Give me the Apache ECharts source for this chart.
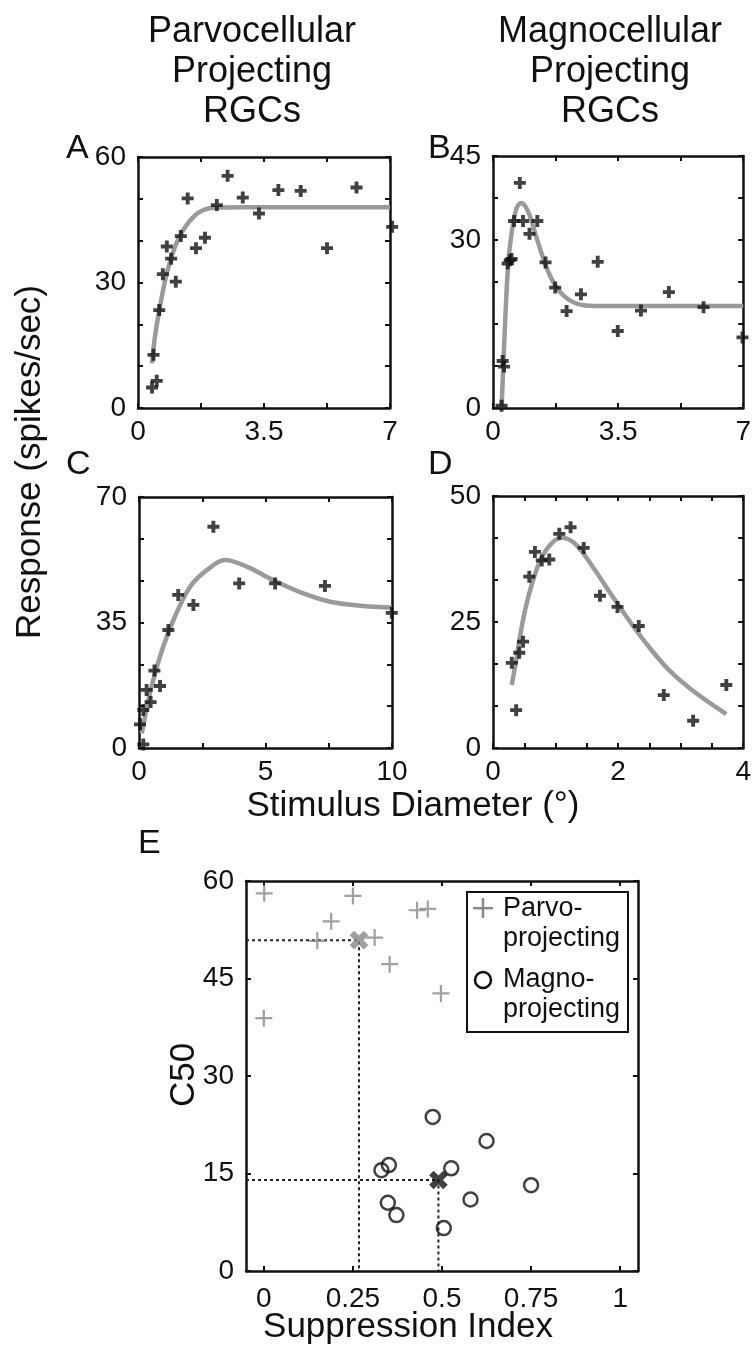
<!DOCTYPE html>
<html>
<head>
<meta charset="utf-8">
<script src="https://cdn.jsdelivr.net/npm/echarts@6/dist/echarts.min.js"></script>
<style>
html, body { margin: 0; padding: 0; background: #fff; }
#chart { width: 754px; height: 1357px; }
</style>
</head>
<body>
<div id="chart"></div>
<script>
// ---- panel A: parvo cell, response vs diameter
var aPoints = [[0.39, 4.9], [0.52, 6.5], [0.43, 12.7], [0.59, 23.4], [0.69, 32], [0.8, 38.6], [0.92, 35.7],
  [1.05, 30.2], [1.19, 41.1], [1.38, 50.1], [1.61, 38.2], [1.86, 40.7], [2.19, 48.5], [2.49, 55.5],
  [2.91, 50.3], [3.36, 46.5], [3.9, 52.1], [4.52, 51.9], [5.25, 38.2], [6.07, 52.7], [7.06, 43.3]]
var aFit = [[0.39, 10.7], [0.47, 17], [0.61, 24.2], [0.8, 32.2], [1.03, 38.6], [1.26, 42.6], [1.54, 45.7],
  [1.81, 47.3], [2.2, 47.9], [3, 48], [5, 48], [7, 48]]
var aXTicks = [0, 1.75, 3.5, 5.25, 7]
var aXLabels = [0, 3.5, 7]
var aYTicks = [0, 10, 20, 30, 40, 50, 60]
var aYLabels = [0, 30, 60]

// ---- panel B: magno cell
var bPoints = [[0.24, 0.4], [0.27, 8.4], [0.31, 7.4], [0.41, 25.8], [0.47, 26.4], [0.52, 26.6], [0.59, 33.4],
  [0.75, 40.2], [0.84, 33.4], [1.02, 31.1], [1.24, 33.4], [1.47, 26], [1.74, 21.5], [2.06, 17.3],
  [2.46, 20.3], [2.93, 26.1], [3.49, 13.75], [4.14, 17.4], [4.92, 20.7], [5.89, 18], [6.98, 12.6]]
var bFit = [[0.24, 0], [0.33, 13.9], [0.42, 25.2], [0.52, 31.2], [0.66, 35.7], [0.79, 36.6], [0.98, 35.1],
  [1.21, 30.6], [1.49, 25.2], [1.76, 21.7], [2.13, 19.3], [2.59, 18.3], [3.2, 18.2], [5, 18.2], [7, 18.2]]
var bXTicks = [0, 1.75, 3.5, 5.25, 7]
var bXLabels = [0, 3.5, 7]
var bYTicks = [0, 7.5, 15, 22.5, 30, 37.5, 45]
var bYLabels = [0, 30, 45]

// ---- panel C: parvo cell
var cPoints = [[0.17, 1], [0.04, 6.6], [0.17, 10.6], [0.46, 12.8], [0.3, 16.2], [0.83, 17.3], [0.61, 21.6],
  [1.16, 32.9], [1.55, 42.7], [2.15, 39.9], [2.94, 61.7], [3.96, 45.9], [5.38, 45.9], [7.35, 45.2], [9.99, 37.7]]
var cFit = [[0.11, 4.1], [0.43, 15.2], [0.83, 25.5], [1.36, 35.7], [2.02, 45], [2.68, 49.6], [3.4, 52.4],
  [4.26, 50.6], [5.31, 46.8], [6.5, 43.1], [7.55, 40.8], [8.87, 39.6], [9.99, 39.2]]
var cXTicks = [0, 2.5, 5, 7.5, 10]
var cXLabels = [0, 5, 10]
var cYTicks = [0, 70 / 6, 70 / 3, 35, 140 / 3, 175 / 3, 70]
var cYLabels = [0, 35, 70]

// ---- panel D: magno cell
var dPoints = [[0.3, 16.9], [0.42, 18.9], [0.48, 21.1], [0.58, 34], [0.67, 38.9], [0.78, 37.2], [0.9, 37.4],
  [1.06, 42.5], [1.24, 43.8], [1.45, 39.7], [1.71, 30.2], [1.99, 28], [2.33, 24.2], [2.73, 10.5],
  [3.73, 12.5], [0.37, 7.5], [3.2, 5.4]]
var dFit = [[0.3, 12.5], [0.38, 18.1], [0.48, 25.4], [0.61, 32], [0.77, 37.6], [0.96, 40.9], [1.11, 41.7],
  [1.33, 40.3], [1.59, 36], [1.86, 31], [2.17, 25.4], [2.49, 20.1], [2.81, 15.5], [3.18, 11.5], [3.73, 6.7]]
var dXTicks = [0, 0.5, 1, 1.5, 2, 2.5, 3, 3.5, 4]
var dXLabels = [0, 2, 4]
var dYTicks = [0, 50 / 6, 50 / 3, 25, 100 / 3, 125 / 3, 50]
var dYLabels = [0, 25, 50]

// ---- panel E: suppression index vs C50
var parvoPoints = [[0.001, 58.1], [0.25, 57.7], [0.189, 53.8], [0.15, 50.8], [0.311, 51.3], [0.353, 47.2],
  [0.43, 55.5], [0.46, 55.7], [0.497, 42.7], [0, 38.9]]
var magnoPoints = [[0.474, 23.7], [0.625, 20], [0.351, 16.3], [0.33, 15.5], [0.526, 15.8], [0.75, 13.2],
  [0.58, 11], [0.348, 10.5], [0.372, 8.6], [0.505, 6.6]]
var parvoMean = [0.267, 50.9]
var magnoMean = [0.49, 14]
var eXTicks = [0, 0.25, 0.5, 0.75, 1]
var eYTicks = [0, 15, 30, 45, 60]

var INK = '#111'
var FIT = '#9a9a9a'
var FONT = 'Liberation Sans'
var PLUS = 'path://M3.4,0H6.6V3.4H10V6.6H6.6V10H3.4V6.6H0V3.4H3.4Z'
var THIN_PLUS = 'path://M4.35,0H5.65V4.35H10V5.65H5.65V10H4.35V5.65H0V4.35H4.35Z'

function axis(grid, pos, min, max, ticks, labels, margin) {
  return {
    type: 'value',
    gridIndex: grid,
    position: pos,
    min: min,
    max: max,
    axisLine: { show: true, onZero: false, lineStyle: { color: INK, width: 2.5 } },
    axisTick: { show: true, inside: true, length: 5, customValues: ticks, lineStyle: { color: INK, width: 2 } },
    axisLabel: {
      show: !!labels,
      customValues: labels || [],
      margin: margin || 10,
      color: INK,
      fontSize: 28,
      fontFamily: FONT
    },
    splitLine: { show: false }
  }
}

var grids = [
  { left: 138, top: 157, width: 252, height: 251 },
  { left: 493, top: 156, width: 253, height: 252 },
  { left: 139, top: 497, width: 253, height: 251 },
  { left: 493, top: 496, width: 252, height: 252 },
  { left: 246, top: 881, width: 392, height: 390 }
]

var xAxes = [
  axis(0, 'bottom', 0, 7, aXTicks, aXLabels), axis(0, 'top', 0, 7, aXTicks),
  axis(1, 'bottom', 0, 7, bXTicks, bXLabels), axis(1, 'top', 0, 7, bXTicks),
  axis(2, 'bottom', 0, 10, cXTicks, cXLabels), axis(2, 'top', 0, 10, cXTicks),
  axis(3, 'bottom', 0, 4, dXTicks, dXLabels), axis(3, 'top', 0, 4, dXTicks),
  axis(4, 'bottom', -0.05, 1.05, eXTicks, eXTicks, 14), axis(4, 'top', -0.05, 1.05, eXTicks)
]
var yAxes = [
  axis(0, 'left', 0, 60, aYTicks, aYLabels, 12), axis(0, 'right', 0, 60, aYTicks),
  axis(1, 'left', 0, 45, bYTicks, bYLabels, 12), axis(1, 'right', 0, 45, bYTicks),
  axis(2, 'left', 0, 70, cYTicks, cYLabels, 12), axis(2, 'right', 0, 70, cYTicks),
  axis(3, 'left', 0, 50, dYTicks, dYLabels, 12), axis(3, 'right', 0, 50, dYTicks),
  axis(4, 'left', 0, 60, eYTicks, eYTicks, 12), axis(4, 'right', 0, 60, eYTicks)
]

function fitLine(i, data) {
  return {
    type: 'line', xAxisIndex: 2 * i, yAxisIndex: 2 * i, data: data,
    smooth: 0.35, showSymbol: false, symbol: 'none', silent: true,
    lineStyle: { color: FIT, width: 4.5 }, z: 2
  }
}
function pts(i, data) {
  return {
    type: 'scatter', xAxisIndex: 2 * i, yAxisIndex: 2 * i, data: data, clip: false,
    symbol: PLUS, symbolSize: 12, itemStyle: { color: INK }, z: 3
  }
}
function guide(p) {
  return {
    type: 'line', xAxisIndex: 8, yAxisIndex: 8, symbol: 'none', silent: true,
    data: [[-0.05, p[1]], [p[0], p[1]], [p[0], 0]],
    lineStyle: { color: '#222', width: 2, type: [3, 3] }, z: 1
  }
}

var chart = echarts.init(document.getElementById('chart'))
chart.setOption({
  backgroundColor: '#fff',
  animation: false,
  grid: grids,
  xAxis: xAxes,
  yAxis: yAxes,
  series: [
    fitLine(0, aFit), pts(0, aPoints),
    fitLine(1, bFit), pts(1, bPoints),
    fitLine(2, cFit), pts(2, cPoints),
    fitLine(3, dFit), pts(3, dPoints),
    guide(parvoMean), guide(magnoMean),
    {
      type: 'scatter', xAxisIndex: 8, yAxisIndex: 8, data: parvoPoints,
      symbol: THIN_PLUS, symbolSize: 17, itemStyle: { color: '#888' }, z: 3
    },
    {
      type: 'scatter', xAxisIndex: 8, yAxisIndex: 8, data: magnoPoints,
      symbol: 'circle', symbolSize: 14,
      itemStyle: { color: 'rgba(0,0,0,0)', borderColor: INK, borderWidth: 2.5 }, z: 3
    },
    {
      type: 'scatter', xAxisIndex: 8, yAxisIndex: 8, data: [parvoMean],
      symbol: PLUS, symbolSize: 20, symbolRotate: 45, itemStyle: { color: '#888' }, z: 4
    },
    {
      type: 'scatter', xAxisIndex: 8, yAxisIndex: 8, data: [magnoMean],
      symbol: PLUS, symbolSize: 20, symbolRotate: 45, itemStyle: { color: INK }, z: 4
    }
  ],
  graphic: [
    { type: 'text', style: { text: 'Parvocellular\nProjecting\nRGCs', x: 252, y: 12, fill: INK, font: '36px Liberation Sans', align: 'center', lineHeight: 40 } },
    { type: 'text', style: { text: 'Magnocellular\nProjecting\nRGCs', x: 610, y: 12, fill: INK, font: '36px Liberation Sans', align: 'center', lineHeight: 40 } },
    { type: 'text', style: { text: 'A', x: 66, y: 132, fill: INK, font: '34px Liberation Sans' } },
    { type: 'text', style: { text: 'B', x: 428, y: 132, fill: INK, font: '34px Liberation Sans' } },
    { type: 'text', style: { text: 'C', x: 66, y: 448, fill: INK, font: '34px Liberation Sans' } },
    { type: 'text', style: { text: 'D', x: 428, y: 448, fill: INK, font: '34px Liberation Sans' } },
    { type: 'text', style: { text: 'E', x: 138, y: 827, fill: INK, font: '34px Liberation Sans' } },
    { type: 'text', style: { text: 'Stimulus Diameter (°)', x: 413, y: 806, fill: INK, font: '35px Liberation Sans', align: 'center', verticalAlign: 'middle' } },
    { type: 'text', rotation: Math.PI / 2, x: 30, y: 462, style: { text: 'Response (spikes/sec)', x: 0, y: 0, fill: INK, font: '35px Liberation Sans', align: 'center', verticalAlign: 'middle' } },
    { type: 'text', style: { text: 'Suppression Index', x: 408, y: 1327, fill: INK, font: '35px Liberation Sans', align: 'center', verticalAlign: 'middle' } },
    { type: 'text', rotation: Math.PI / 2, x: 184, y: 1075, style: { text: 'C50', x: 0, y: 0, fill: INK, font: '35px Liberation Sans', align: 'center', verticalAlign: 'middle' } },
    // legend box
    { type: 'rect', shape: { x: 467, y: 892, width: 161, height: 140 }, style: { fill: '#fff', stroke: INK, lineWidth: 2 }, z: 10 },
    { type: 'rect', shape: { x: 473, y: 907, width: 20, height: 2.4 }, style: { fill: '#888' }, z: 11 },
    { type: 'rect', shape: { x: 481.8, y: 898, width: 2.4, height: 20 }, style: { fill: '#888' }, z: 11 },
    { type: 'circle', shape: { cx: 483, cy: 980, r: 8 }, style: { fill: 'none', stroke: INK, lineWidth: 2.5 }, z: 11 },
    { type: 'text', style: { text: 'Parvo-\nprojecting', x: 503, y: 894, fill: INK, font: '27px Liberation Sans', lineHeight: 30 }, z: 11 },
    { type: 'text', style: { text: 'Magno-\nprojecting', x: 503, y: 965, fill: INK, font: '27px Liberation Sans', lineHeight: 30 }, z: 11 }
  ]
})
</script>
</body>
</html>
